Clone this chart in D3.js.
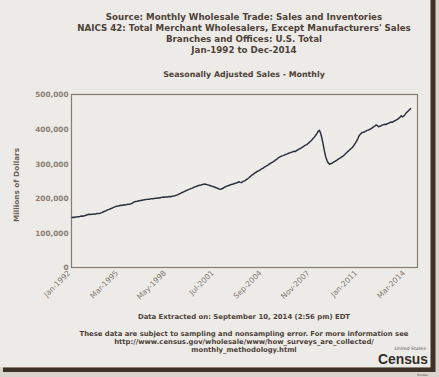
<!DOCTYPE html>
<html>
<head>
<meta charset="utf-8">
<script src="https://cdn.jsdelivr.net/npm/d3@7"></script>
<style>
  body { margin: 0; background: #edebe8; }
  svg { display: block; }
  text { font-family: "DejaVu Sans", Verdana, sans-serif; }
</style>
</head>
<body>
<div id="chart"></div>
<script>
// titles and notes
const titleLines = [
  "Source: Monthly Wholesale Trade: Sales and Inventories",
  "NAICS 42: Total Merchant Wholesalers, Except Manufacturers' Sales",
  "Branches and Offices: U.S. Total",
  "Jan-1992 to Dec-2014"
];
const subTitle = "Seasonally Adjusted Sales - Monthly";
const yTitle = "Millions of Dollars";
const extracted = "Data Extracted on: September 10, 2014 (2:56 pm) EDT";
const footLines = [
  "These data are subject to sampling and nonsampling error. For more information see",
  "http://www.census.gov/wholesale/www/how_surveys_are_collected/",
  "monthly_methodology.html"
];

// axis ticks
const yTicks = [0, 100000, 200000, 300000, 400000, 500000];
const xTickLabels = ["Jan-1992", "Mar-1995", "May-1998", "Jul-2001", "Sep-2004", "Nov-2007", "Jan-2011", "Mar-2014"];

// monthly sales, millions of dollars, Jan-1992 .. Jul-2014
const sales = [
  143800, 145200, 144600, 146100, 145700, 147000, 146400, 147900, 148600, 148100, 149500, 150200, // 1992
  151600, 153300, 153800, 152900, 154100, 153600, 155000, 154200, 155900, 156400, 155700, 157300, // 1993
  158600, 160400, 162100, 163000, 165200, 166800, 168100, 169900, 171400, 173000, 174600, 176100, // 1994
  177000, 177800, 178500, 179900, 179200, 180600, 181300, 180900, 182400, 183000, 182600, 183800, // 1995
  185100, 187900, 189600, 190800, 191200, 192000, 192700, 193400, 194100, 194800, 195600, 196300, // 1996
  196900, 197500, 197100, 198400, 199000, 198600, 199700, 200500, 200100, 201300, 201000, 202200, // 1997
  202800, 203500, 203100, 204200, 203900, 204600, 205100, 204700, 205800, 206400, 207200, 208500, // 1998
  209700, 211500, 213000, 214800, 216900, 218400, 220100, 221800, 223500, 225000, 226600, 228300, // 1999
  229500, 231200, 233000, 234100, 235600, 236800, 237900, 238700, 239600, 240800, 241200, 240300, // 2000
  239000, 238100, 237000, 235400, 234600, 233200, 231900, 230500, 229200, 227100, 226000, 226800, // 2001
  228400, 230500, 232900, 234100, 235800, 237200, 238600, 239900, 240400, 242100, 243300, 244200, // 2002
  245500, 247800, 246000, 245300, 247900, 249600, 251200, 253800, 256400, 259300, 262500, 266000, // 2003
  268400, 271100, 273900, 276000, 278300, 280100, 282400, 284900, 286700, 289200, 291600, 293800, // 2004
  296100, 298700, 300500, 303200, 304800, 307400, 310100, 312600, 315900, 318000, 320300, 322100, // 2005
  323400, 324800, 326900, 327600, 329300, 331000, 331900, 333200, 334800, 336100, 335200, 338400, // 2006
  340300, 342700, 344100, 346500, 348900, 351200, 353600, 355100, 358400, 361700, 364900, 368300, // 2007
  372500, 376800, 381400, 387000, 393600, 396800, 388500, 374200, 356000, 336900, 320400, 309800, // 2008
  302400, 298600, 299900, 301200, 303500, 306000, 307800, 310600, 312900, 315100, 317400, 320200, // 2009
  322800, 325900, 329400, 333000, 336200, 339500, 342800, 346100, 350300, 355800, 361400, 367900, // 2010
  376500, 383200, 386800, 389900, 390800, 392400, 394100, 396300, 397500, 399200, 401000, 403600, // 2011
  406100, 408500, 411700, 410300, 407000, 408200, 409600, 411400, 412900, 414200, 413100, 415800, // 2012
  417000, 418900, 420700, 419600, 422400, 424100, 425800, 428300, 430600, 433900, 438700, 435200, // 2013
  437400, 441800, 446500, 450200, 453900, 457600, 460100                                          // 2014
];

const W = 439, H = 377;
const margin = {top: 94.5, right: 21.5, bottom: 109.5, left: 71.5};
const width = W - margin.left - margin.right,
      height = H - margin.top - margin.bottom;

const parseMonth = d3.timeParse("%b-%Y");
const data = sales.map((v, i) => ({date: new Date(1992, i, 1), value: v}));

const svg = d3.select("#chart")
  .append("svg")
  .attr("width", W)
  .attr("height", H);

// background and frame shadow
svg.append("rect").attr("width", W).attr("height", H).attr("fill", "#edebe8");
svg.append("rect").attr("x", 431).attr("y", 0).attr("width", 8).attr("height", 373).attr("fill", "#d8d3cb");
svg.append("rect").attr("x", 0).attr("y", 367).attr("width", 439).attr("height", 10).attr("fill", "#d8d3cb");
svg.append("rect").attr("x", 430.5).attr("y", 0).attr("width", 5).attr("height", 372).attr("fill", "#3e3226");
svg.append("rect").attr("x", 3).attr("y", 367.5).attr("width", 432).attr("height", 4.5).attr("fill", "#3e3226");

// titles
svg.append("g")
  .selectAll("text")
  .data(titleLines)
  .join("text")
  .attr("x", 244)
  .attr("y", (d, i) => 19.5 + i * 11.2)
  .attr("text-anchor", "middle")
  .style("font-size", "8.7px")
  .style("font-weight", "bold")
  .style("fill", "#4d4238")
  .text(d => d);

svg.append("text")
  .attr("x", 244)
  .attr("y", 77)
  .attr("text-anchor", "middle")
  .style("font-size", "7.9px")
  .style("font-weight", "bold")
  .style("fill", "#4d4238")
  .text(subTitle);

const g = svg.append("g")
  .attr("transform", `translate(${margin.left},${margin.top})`);

const x = d3.scaleTime()
  .domain([new Date(1992, 0, 1), new Date(2014, 11, 1)])
  .range([0, width]);

const y = d3.scaleLinear()
  .domain([0, 500000])
  .range([height, 0]);

// plot frame
g.append("rect")
  .attr("width", width)
  .attr("height", height)
  .attr("fill", "#eeece9")
  .attr("stroke", "#857b6e")
  .attr("stroke-width", 1.2);

// Y axis
const yAxis = g.append("g")
  .call(d3.axisLeft(y).tickValues(yTicks).tickSize(0).tickPadding(3).tickFormat(d3.format(",")));
yAxis.select(".domain").remove();
yAxis.selectAll("text")
  .style("font-size", "7.3px")
  .style("font-weight", "bold")
  .style("fill", "#8a8074")
  .style("font-family", "DejaVu Sans");

// X axis, rotated labels
const xAxis = g.append("g")
  .attr("transform", `translate(0,${height})`)
  .call(d3.axisBottom(x).tickValues(xTickLabels.map(parseMonth)).tickSize(0).tickFormat(d3.timeFormat("%b-%Y")));
xAxis.select(".domain").remove();
xAxis.selectAll("text")
  .attr("text-anchor", "end")
  .attr("dy", null)
  .attr("y", 0)
  .attr("transform", "translate(-1,6) rotate(-45)")
  .style("font-size", "7.6px")
  .style("fill", "#857b70")
  .style("font-family", "DejaVu Sans");

// Y axis title
svg.append("text")
  .attr("transform", "translate(18.5,185) rotate(-90)")
  .attr("text-anchor", "middle")
  .style("font-size", "7.3px")
  .style("font-weight", "bold")
  .style("fill", "#6f655a")
  .text(yTitle);

// the line
const line = d3.line()
  .x(d => x(d.date))
  .y(d => y(d.value));

g.append("path")
  .datum(data)
  .attr("d", line)
  .attr("fill", "none")
  .attr("stroke", "#2c3340")
  .attr("stroke-width", 1.5)
  .attr("stroke-linejoin", "round");

// notes
svg.append("text")
  .attr("x", 244)
  .attr("y", 319)
  .attr("text-anchor", "middle")
  .style("font-size", "6.9px")
  .style("font-weight", "bold")
  .style("fill", "#4d4238")
  .text(extracted);

svg.append("g")
  .selectAll("text")
  .data(footLines)
  .join("text")
  .attr("x", 244)
  .attr("y", (d, i) => 335.5 + i * 8.3)
  .attr("text-anchor", "middle")
  .style("font-size", "6.85px")
  .style("font-weight", "bold")
  .style("fill", "#4d4238")
  .text(d => d);

// Census logo
const logo = svg.append("g");
logo.append("text")
  .attr("x", 427).attr("y", 350)
  .attr("text-anchor", "end")
  .style("font-size", "4.6px")
  .style("font-style", "italic")
  .style("fill", "#555")
  .text("United States\u00b7");
logo.append("text")
  .attr("x", 378).attr("y", 364)
  .attr("textLength", 50)
  .attr("lengthAdjust", "spacingAndGlyphs")
  .style("font-family", "Liberation Sans, Arial, sans-serif")
  .style("font-size", "15px")
  .style("font-weight", "bold")
  .style("fill", "#2e2e2e")
  .text("Census");
logo.append("text")
  .attr("x", 428).attr("y", 375.5)
  .attr("text-anchor", "end")
  .style("font-size", "3px")
  .style("fill", "#555")
  .text("Bureau");
</script>
</body>
</html>
